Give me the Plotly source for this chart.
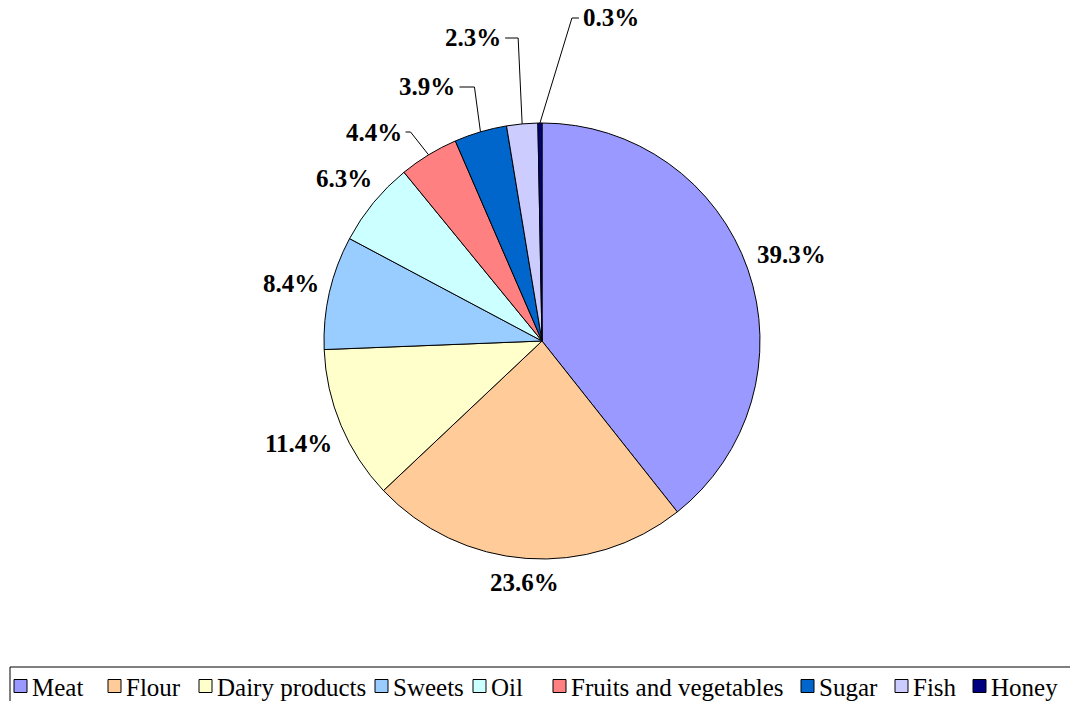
import math
import plotly.graph_objects as go

categories = ["Meat", "Flour", "Dairy products", "Sweets", "Oil",
              "Fruits and vegetables", "Sugar", "Fish", "Honey"]
shares = [39.3, 23.6, 11.4, 8.4, 6.3, 4.4, 3.9, 2.3, 0.3]
label_texts = ["39.3%", "23.6%", "11.4%", "8.4%", "6.3%", "4.4%", "3.9%", "2.3%", "0.3%"]
colors = ["#9999FF", "#FFCC99", "#FFFFCC", "#99CCFF", "#CCFFFF",
          "#FF8080", "#0066CC", "#CCCCFF", "#000080"]

# layout (pixels)
W, H = 1070, 701
CX, CY, R = 542, 341, 218
# leader-line label placement for small slices: (elbow y, elbow dx from slice edge, horizontal run, side)
leaders = {5: (132, -18, -5, "right"), 6: (87, -6, -15, "right"),
           7: (38, -4, -13, "right"), 8: (18, 32, 7, "left")}
# legend entry x positions (pixels, left edge of the key square)
legend_x = [14, 108, 199, 375, 473, 553, 801, 895, 973]
LEG_Y, SQ = 686, 13

def px(x):
    return x / W

def py(y):
    return 1 - y / H

fig = go.Figure(go.Pie(
    labels=categories, values=shares, sort=False, direction="clockwise",
    rotation=0, textinfo="none", hoverinfo="label+percent",
    marker=dict(colors=colors, line=dict(color="black", width=1)),
    domain=dict(x=[px(CX - R), px(CX + R)], y=[py(CY + R), py(CY - R)]),
    showlegend=False,
))

total = sum(shares)
cum = 0.0
annotations = []
shapes = []
font_lbl = dict(family="Liberation Serif", size=25, color="black")
for i, (v, t) in enumerate(zip(shares, label_texts)):
    mid = (cum + v / 2) / total * 2 * math.pi
    cum += v
    ux, uy = math.sin(mid), -math.cos(mid)
    if i in leaders:
        ey, edx, run, side = leaders[i]
        sx, sy = CX + R * ux, CY + R * uy
        ex = sx + edx
        hx = ex + run
        shapes.append(dict(type="path", xref="paper", yref="paper",
                           path=f"M {px(sx)},{py(sy)} L {px(ex)},{py(ey)} L {px(hx)},{py(ey)}",
                           line=dict(color="black", width=1)))
        annotations.append(dict(x=px(hx + (-2 if side == "right" else 2)), y=py(ey), xref="paper", yref="paper",
                                text=f"<b>{t}</b>", showarrow=False, font=font_lbl,
                                xanchor=side, yanchor="middle"))
    else:
        w, h = 13.5 * len(t), 24
        d = R + 10 + abs(ux) * w / 2 + abs(uy) * h / 2
        annotations.append(dict(x=px(CX + d * ux), y=py(CY + d * uy), xref="paper", yref="paper",
                                text=f"<b>{t}</b>", showarrow=False, font=font_lbl,
                                xanchor="center", yanchor="middle"))

# legend (boxed, along the bottom)
font_leg = dict(family="Liberation Serif", size=25, color="black")
for name, col, lx in zip(categories, colors, legend_x):
    shapes.append(dict(type="rect", xref="paper", yref="paper",
                       x0=px(lx), x1=px(lx + SQ), y0=py(LEG_Y + SQ / 2), y1=py(LEG_Y - SQ / 2),
                       fillcolor=col, line=dict(color="black", width=1)))
    annotations.append(dict(x=px(lx + SQ + 3), y=py(LEG_Y + 1), xref="paper", yref="paper", text=name,
                            showarrow=False, font=font_leg, xanchor="left", yanchor="middle"))
shapes.append(dict(type="rect", xref="paper", yref="paper", x0=px(10), x1=px(1080),
                   y0=py(667), y1=py(720), line=dict(color="black", width=1), fillcolor="rgba(0,0,0,0)"))

fig.update_layout(
    width=W, height=H, margin=dict(l=0, r=0, t=0, b=0),
    paper_bgcolor="white", plot_bgcolor="white",
    annotations=annotations, shapes=shapes,
    showlegend=False,
)

fig.write_html("out.html", config={"displayModeBar": False},
               post_script="document.body.style.margin='0px';")
